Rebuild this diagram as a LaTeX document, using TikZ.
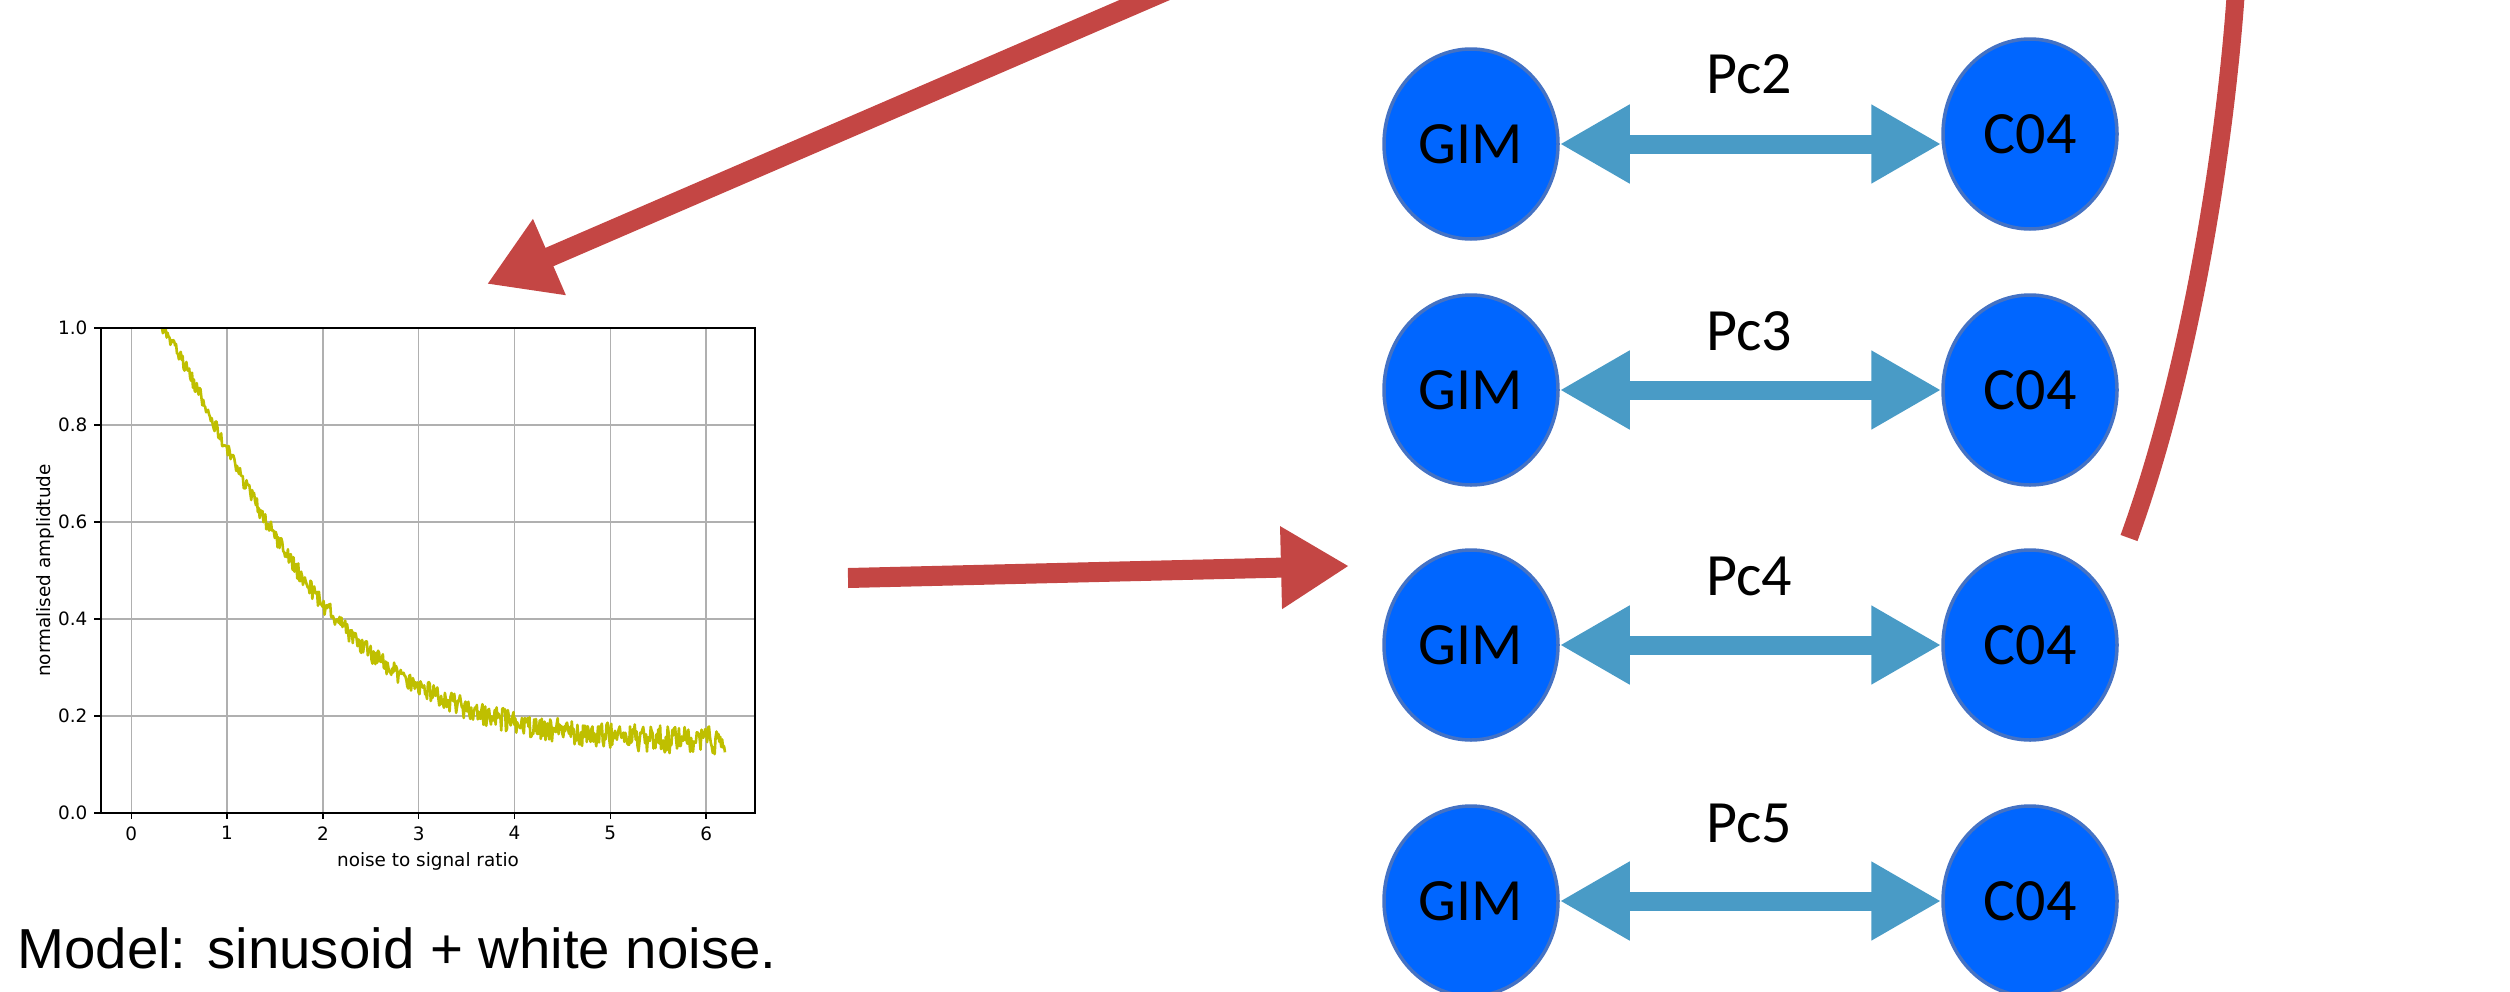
\documentclass[tikz,border=0pt]{standalone}
\usepackage{fontspec}
\setmainfont{Carlito}
\newfontfamily\plotfont{DejaVu Sans}
\newfontfamily\notefont{Liberation Sans}
\usetikzlibrary{arrows.meta,shapes.geometric}

\definecolor{nodeblue}{RGB}{0,102,255}
\definecolor{nodeedge}{RGB}{68,114,196}
\definecolor{linkblue}{RGB}{73,155,198}
\definecolor{arrowred}{RGB}{196,70,68}
\definecolor{curveyellow}{RGB}{191,191,0}
\definecolor{gridgray}{RGB}{176,176,176}

\begin{document}
\begin{tikzpicture}[x=0.5pt, y=-0.5pt,
        station/.style={ellipse, draw=nodeedge, fill=nodeblue, line width=1.75pt,
            minimum width=87pt, minimum height=95pt, inner sep=0pt,
            font=\fontsize{30pt}{36pt}\selectfont},
        link/.style={draw=linkblue, line width=9.5pt,
            {Triangle[length=35pt,width=37pt]}-{Triangle[length=35pt,width=37pt]}},
        redarrow/.style={draw=arrowred, line width=10pt, -{Triangle[length=34pt,width=39pt]}},
        ticklabel/.style={inner sep=0pt, font=\plotfont\fontsize{9.2pt}{11pt}\selectfont}
    ]
    \useasboundingbox (0,0) rectangle (2510,991);
    \clip (0,0) rectangle (2510,991);

    % Amplitude against noise level
    \begin{scope}[shift={(131.3,813)}, x=47.9pt, y=242.5pt]
        \foreach \x in {0,...,6}
            \draw[gridgray, line width=0.75pt] (\x,0) -- (\x,1);
        \foreach \y in {0.2,0.4,0.6,0.8}
            \draw[gridgray, line width=0.75pt] (-0.318,\y) -- (6.51,\y);

        \begin{scope}
            \clip (-0.318,0) rectangle (6.51,1);
            \pgfmathsetseed{7}
            \draw[curveyellow, line width=1.3pt, line join=round]
                plot[domain=0.32:6.2, samples=600, variable=\t]
                (\t, {0.145+0.855*exp(-0.55*(\t-0.3)^1.3)+(0.012+0.003*\t)*rand});
        \end{scope}

        \draw[line width=0.75pt] (-0.318,0) rectangle (6.51,1);
        \foreach \x in {0,...,6} {
            \draw[line width=0.75pt] (\x,0) -- ++(0,-3.2pt);
            \node[ticklabel, anchor=north] (xt\x) at ([yshift=-6.5pt]\x,0) {\x};
        }
        \foreach \y/\t in {0/0.0,0.2/0.2,0.4/0.4,0.6/0.6,0.8/0.8,1/1.0} {
            \draw[line width=0.75pt] (-0.318,\y) -- ++(-3.2pt,0);
            \node[ticklabel, anchor=east] (yt\t) at ([xshift=-6.5pt]-0.318,\y) {\t};
        }
        \node[ticklabel] (xlab) at (3.097,-0.099) {noise to signal ratio};
        \node[ticklabel, rotate=90] (ylab) at (-0.9,0.5) {normalised amplidtude};
    \end{scope}

    \node[anchor=base west, inner sep=0pt, font=\notefont\fontsize{28.2pt}{34pt}\selectfont]
        (model) at (17,968) {Model: sinusoid + white noise.};

    % GIM -- C04 pairs
    \foreach \i/\lab/\gy/\cy/\ly in {1/Pc2/144/134/93, 2/Pc3/390/390/350,
            3/Pc4/645/645/595, 4/Pc5/901/901/842} {
        \node[station] (g\i) at (1471,\gy) {GIM};
        \node[station] (c\i) at (2030,\cy) {C04};
        \draw[link] (g\i.east) -- (g\i.east -| c\i.west);
        \node[anchor=base, inner sep=0pt, font=\fontsize{30pt}{36pt}\selectfont]
            (pc\i) at (1749,\ly) {\lab};
    }

    % red arrows
    \coordinate (downTail) at (1191,-20);
    \coordinate (downTip) at (487,284);
    \coordinate (feedTail) at (848,578);
    \coordinate (feedTip) at (1349,566);
    \coordinate (loopEnd) at (2129,538);
    \coordinate (loopTop) at (2236,-10);

    \draw[redarrow] (downTail) -- (downTip);
    \draw[redarrow] (feedTail) -- (feedTip);
    \draw[arrowred, line width=9pt] (loopEnd) .. controls (2190,370) and (2225,150) .. (loopTop);
\end{tikzpicture}
\end{document}
